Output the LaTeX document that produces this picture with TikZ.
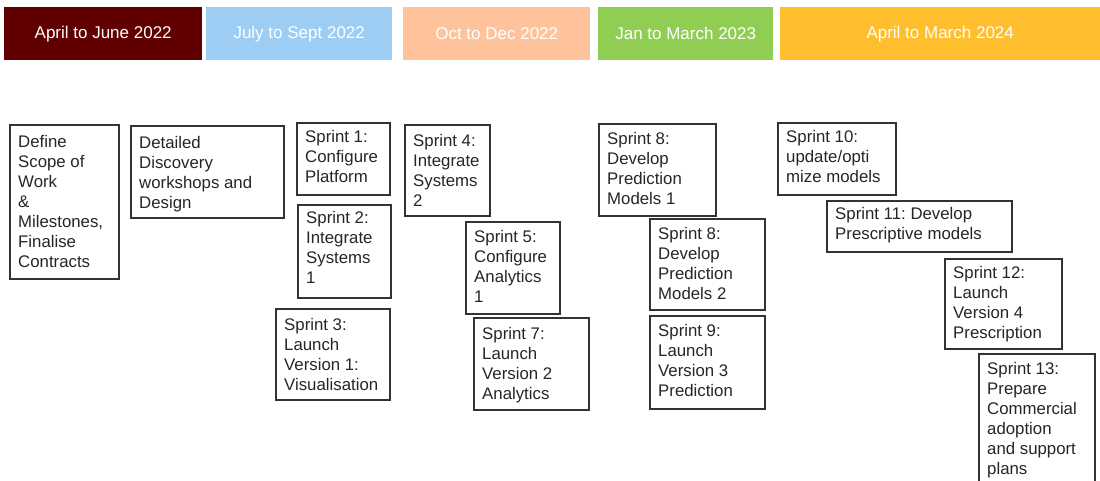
\documentclass[tikz,border=0pt]{standalone}
\usepackage{fontspec}
\setmainfont{Liberation Sans}
\frenchspacing
\begin{document}
\begin{tikzpicture}[x=1pt,y=-1pt,
  band/.style={draw=none, inner sep=0pt, anchor=north west,
    font=\fontsize{17}{20}\selectfont, text=white},
  taskframe/.style={draw=black!80, line width=1.7pt, inner sep=0pt,
    anchor=north west, fill=white},
  tasktext/.style={inner sep=0pt, anchor=north west, align=left,
    text=black!85, font=\fontsize{16.8}{20}\selectfont}]
\useasboundingbox (0,0) rectangle (1100,480);
\clip (0,0) rectangle (1100,480);

% quarter bands across the top
\definecolor{qone}{HTML}{600000}
\definecolor{qtwo}{HTML}{9DCDF2}
\definecolor{qthree}{HTML}{FFC39C}
\definecolor{qfour}{HTML}{8FCE52}
\definecolor{qfive}{HTML}{FFBE2E}
\newcommand\band[5]{%
  \node[band, fill=#4, minimum width={#3-#2}, minimum height=53] (#1) at (#2,7) {};
  \node[text=white, font=\fontsize{17}{20}\selectfont, inner sep=0pt] (#1-t) at (#1.center) {#5};}
\band{q1}{4}{202}{qone}{April to June 2022}
\band{q2}{206}{392}{qtwo}{July to Sept 2022}
\band{q3}{403}{590}{qthree}{Oct to Dec 2022}
\band{q4}{598}{773}{qfour}{Jan to March 2023}
\band{q5}{780}{1100}{qfive}{April to March 2024}

% task boxes: name, left, top, right, bottom, text offset, lines
\newcommand\task[7]{%
  \node[taskframe, minimum width={#4-#2}, minimum height={#5-#3}] (#1) at (#2,#3) {};
  \node[tasktext] (#1-t) at ([xshift=9pt,yshift=-#6pt]#1.north west) {\strut#7};}

\task{scope}{9}{124}{118}{278}{9}{Define\\Scope of\\Work\\\&\\Milestones,\\Finalise\\Contracts}
\task{disc}{130}{125}{283}{217}{9}{Detailed\\Discovery\\workshops and\\Design}
\task{s1}{296}{122}{389}{194}{6}{Sprint 1:\\Configure\\Platform}
\task{s2}{297}{204}{390}{297}{5}{Sprint 2:\\Integrate\\Systems\\1}
\task{s3}{275}{308}{389}{399}{8}{Sprint 3:\\Launch\\Version 1:\\Visualisation}
\task{s4}{404}{124}{489}{215}{8}{Sprint 4:\\Integrate\\Systems\\2}
\task{s5}{465}{221}{559}{313}{7}{Sprint 5:\\Configure\\Analytics\\1}
\task{s7}{473}{317}{588}{409}{8}{Sprint 7:\\Launch\\Version 2\\Analytics}
\task{s8a}{598}{123}{715}{215}{7}{Sprint 8:\\Develop\\Prediction\\Models 1}
\task{s8b}{649}{218}{764}{309}{7}{Sprint 8:\\Develop\\Prediction\\Models 2}
\task{s9}{649}{315}{764}{408}{7}{Sprint 9:\\Launch\\Version 3\\Prediction}
\task{s10}{777}{122}{895}{194}{6}{Sprint 10:\\update/opti\\mize models}
\task{s11}{826}{200}{1011}{251}{5}{Sprint 11: Develop\\Prescriptive models}
\task{s12}{944}{258}{1061}{348}{6}{Sprint 12:\\Launch\\Version 4\\Prescription}
\task{s13}{978}{353}{1094}{490}{7}{Sprint 13:\\Prepare\\Commercial\\adoption\\and support\\plans}
\end{tikzpicture}
\end{document}
